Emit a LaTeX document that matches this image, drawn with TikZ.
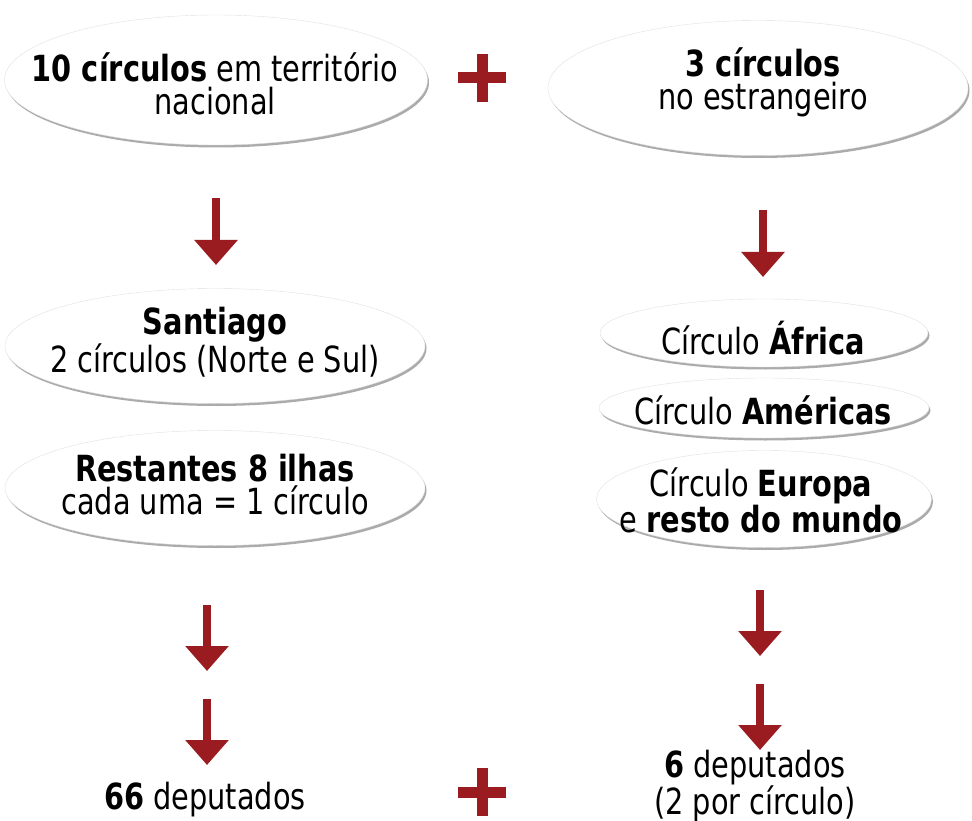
\documentclass[tikz,border=0pt]{standalone}
\usepackage{fontspec}
\setmainfont{DejaVu Sans}[FakeStretch=0.8]
\usepackage{tikz}
\usetikzlibrary{positioning, calc, shapes, shadows, arrows.meta}
\definecolor{darkred}{RGB}{155,28,32}
\tikzset{bubble/.style={ellipse, fill=white, draw=black!12, thin, inner sep=0pt,
    drop shadow={shadow xshift=1.5pt, shadow yshift=-2.5pt, fill=black!55, opacity=.6}}}
\tikzset{txt/.style={align=center, inner sep=0pt, font=\fontsize{36}{33}\selectfont}}
\tikzset{down/.style={darkred, line width=8pt, -{Triangle[width=42pt, length=25pt]}}}
\tikzset{plussign/.style={minimum size=48pt, inner sep=0pt,
    path picture={\draw[darkred, line width=11pt]
      (path picture bounding box.north) -- (path picture bounding box.south)
      (path picture bounding box.west) -- (path picture bounding box.east);}}}

\begin{document}
\begin{tikzpicture}[x=1pt, y=-1pt]
      \useasboundingbox (0,0) rectangle (972,821);

      % territorio nacional
      \node[bubble, minimum width=423pt, minimum height=130pt] (nat) at (216,80) {};
      \node[txt] (natT) at (215,84) {\textbf{10 círculos} em território\\nacional};
      \node[plussign] (p1) at (482,78) {};
      \node[bubble, minimum width=420pt, minimum height=135pt] (est) at (758,88) {};
      \node[txt] (estT) at (763,82) {\textbf{3 círculos}\\no estrangeiro};

      \coordinate (a1s) at (216,198);
      \coordinate (a1e) at (216,265);
      \draw[down] (a1s) -- (a1e);
      \coordinate (a4s) at (763,210);
      \coordinate (a4e) at (763,277);
      \draw[down] (a4s) -- (a4e);

      \node[bubble, minimum width=420pt, minimum height=115pt] (stg) at (215,346) {};
      \node[txt] (stgT) at (215,342) {\textbf{Santiago}\\2 círculos (Norte e Sul)};
      \node[bubble, minimum width=420pt, minimum height=115pt] (ilh) at (215,488) {};
      \node[txt] (ilhT) at (215,485) {\textbf{Restantes 8 ilhas}\\cada uma = 1 círculo};

      \node[bubble, minimum width=328pt, minimum height=68pt] (afr) at (764,333) {};
      \node[txt] (afrT) at (763,338) {Círculo \textbf{África}};
      \node[bubble, minimum width=330pt, minimum height=60pt] (ame) at (764,408) {};
      \node[txt] (ameT) at (763,410) {Círculo \textbf{Américas}};
      \node[bubble, minimum width=335pt, minimum height=97pt] (eur) at (764,499) {};
      \node[txt] (eurT) at (761,500) {Círculo \textbf{Europa}\\e \textbf{resto do mundo}};

      \coordinate (a2s) at (207,605);
      \coordinate (a2e) at (207,671);
      \draw[down] (a2s) -- (a2e);
      \coordinate (a3s) at (207,699);
      \coordinate (a3e) at (207,765);
      \draw[down] (a3s) -- (a3e);
      \coordinate (a5s) at (760,590);
      \coordinate (a5e) at (760,656);
      \draw[down] (a5s) -- (a5e);
      \coordinate (a6s) at (760,684);
      \coordinate (a6e) at (760,750);
      \draw[down] (a6s) -- (a6e);

      % deputados
      \node[txt] (depL) at (205,800) {\textbf{66} deputados};
      \node[plussign] (p2) at (482,792) {};
      \node[txt] (depR) at (755,786) {\textbf{6} deputados\\(2 por círculo)};
\end{tikzpicture}
\end{document}
